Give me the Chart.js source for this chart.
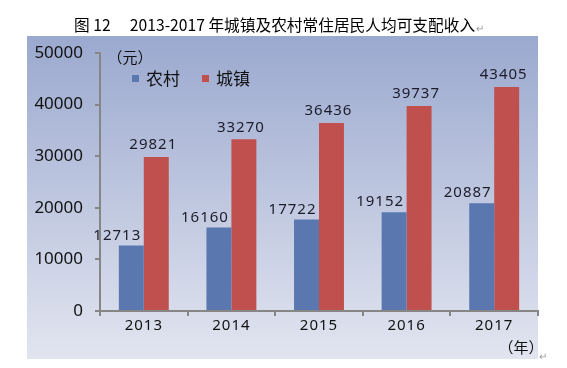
<!DOCTYPE html>
<html>
<head>
<meta charset="utf-8">
<script src="https://cdn.jsdelivr.net/npm/chart.js@4.4.1/dist/chart.umd.min.js"></script>
<style>
html,body{margin:0;padding:0;background:#fff;}
canvas{display:block;}
</style>
</head>
<body>
<canvas id="c" width="567" height="368" style="width:567px;height:368px"></canvas>
<script>
const categories = ['2013', '2014', '2015', '2016', '2017'];
const rural = [12713, 16160, 17722, 19152, 20887];
const urban = [29821, 33270, 36436, 39737, 43405];
const seriesNames = ['农村', '城镇'];
const yTickValues = [0, 10000, 20000, 30000, 40000, 50000];
const titleText = '图 12\u3000 2013-2017 年城镇及农村常住居民人均可支配收入';
const yUnit = '（元）';
const xUnit = '（年）';

const BLUE = '#5a77b0';
const RED = '#c0504d';
const CJK = '"Noto Sans CJK SC", "Noto Sans", sans-serif';
const LAT = '"Noto Sans", "DejaVu Sans", sans-serif';

class SpacedCategory extends Chart.CategoryScale {
  drawLabels(area) {
    const ctx = this.ctx;
    ctx.save();
    ctx.letterSpacing = '1px';
    super.drawLabels(area);
    ctx.restore();
  }
}
SpacedCategory.id = 'spacedCategory';
SpacedCategory.defaults = Chart.CategoryScale.defaults;
Chart.register(SpacedCategory);

const decor = {
  id: 'decor',
  beforeDraw(chart) {
    const ctx = chart.ctx;
    ctx.save();
    const g = ctx.createLinearGradient(0, 36, 0, 359);
    g.addColorStop(0, '#9ba9cf');
    g.addColorStop(1, '#e2e5f0');
    ctx.fillStyle = g;
    ctx.fillRect(27, 36, 511, 323);
    // title
    ctx.fillStyle = '#000';
    ctx.font = '15.7px ' + CJK;
    ctx.textBaseline = 'middle';
    ctx.textAlign = 'left';
    ctx.fillText(titleText, 74, 25);
    const w = ctx.measureText(titleText).width;
    ctx.fillStyle = '#999';
    ctx.font = '10px ' + CJK;
    ctx.fillText('↵', 74 + w + 1, 28);
    ctx.fillText('↵', 539, 356);
    ctx.restore();
  },
  afterDatasetsDraw(chart) {
    const ctx = chart.ctx;
    ctx.save();
    // units
    ctx.fillStyle = '#111';
    ctx.font = '15px ' + CJK;
    ctx.textBaseline = 'middle';
    ctx.textAlign = 'center';
    ctx.fillText(yUnit, 130, 57);
    ctx.fillText(xUnit, 521, 347);
    // legend
    ctx.font = '17px ' + CJK;
    ctx.textAlign = 'left';
    const legendX = [132, 202];
    chart.data.datasets.forEach((ds, i) => {
      ctx.fillStyle = ds.backgroundColor;
      ctx.fillRect(legendX[i], 75, 7, 7);
      ctx.fillStyle = '#111';
      ctx.fillText(ds.label, legendX[i] + 14, 79);
    });
    // data labels
    ctx.font = '15px ' + LAT;
    ctx.letterSpacing = '1px';
    ctx.fillStyle = '#1c1c2a';
    ctx.textAlign = 'center';
    const shiftX = [-14, -3];
    const shiftY = [-10, -12];
    chart.data.datasets.forEach((ds, i) => {
      const meta = chart.getDatasetMeta(i);
      meta.data.forEach((bar, j) => {
        ctx.fillText(String(ds.data[j]), bar.x + shiftX[i], bar.y + shiftY[i]);
      });
    });
    ctx.restore();
  }
};

new Chart(document.getElementById('c'), {
  type: 'bar',
  data: {
    labels: categories,
    datasets: [
      { label: seriesNames[0], data: rural, backgroundColor: BLUE },
      { label: seriesNames[1], data: urban, backgroundColor: RED }
    ]
  },
  options: {
    responsive: false,
    devicePixelRatio: 1,
    animation: false,
    events: [],
    layout: { padding: { left: 0, right: 29, top: 53, bottom: 0 } },
    datasets: { bar: { categoryPercentage: 0.57, barPercentage: 1.0 } },
    plugins: { legend: { display: false }, title: { display: false }, tooltip: { enabled: false } },
    scales: {
      x: {
        type: 'spacedCategory',
        afterFit(s) { s.height = 57; },
        grid: { display: true, drawOnChartArea: false, drawTicks: true, tickLength: 5, color: '#868686', lineWidth: 2, offset: true },
        border: { display: true, color: '#868686', width: 2 },
        ticks: { color: '#111', padding: 1, font: { family: LAT, size: 15 } }
      },
      y: {
        min: 0, max: 50000,
        afterFit(s) { s.width = 100; },
        afterBuildTicks(s) { s.ticks = yTickValues.map(v => ({ value: v })); },
        grid: { display: true, drawOnChartArea: false, drawTicks: true, tickLength: 5, color: '#868686', lineWidth: 2 },
        border: { display: true, color: '#868686', width: 2 },
        ticks: { color: '#111', padding: 12, font: { family: LAT, size: 17 }, callback: v => String(v) }
      }
    }
  },
  plugins: [decor]
});
</script>
</body>
</html>
